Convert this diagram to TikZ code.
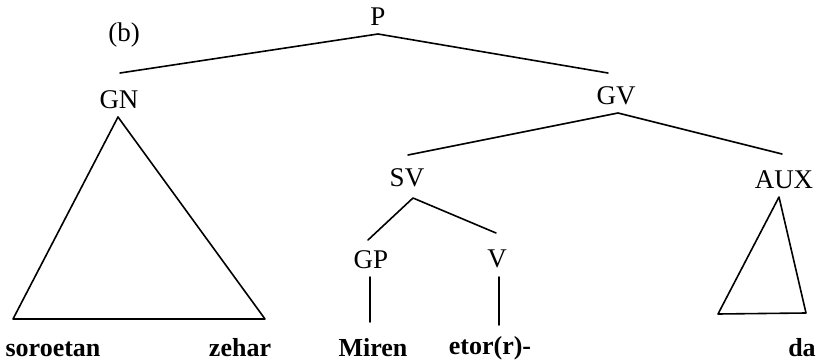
\documentclass[tikz,border=0pt]{standalone}
\usepackage{fontspec}
\setmainfont{Liberation Serif}
\begin{document}
\begin{tikzpicture}[x=1pt,y=-1pt,
  lab/.style={inner sep=0pt,font=\fontsize{27}{27}\selectfont},
  word/.style={inner sep=0pt,font=\fontsize{26}{26}\selectfont\bfseries},
  branch/.style={line width=1.6pt,line cap=round,line join=round}]
\useasboundingbox[fill=white] (0,0) rectangle (817,361);
% labels
\node[lab] (P) at (378,17) {P};
\node[lab] (b) at (124,35) {(b)};
\node[lab] (GN) at (119,100) {GN};
\node[lab] (GV) at (616,96) {GV};
\node[lab] (SV) at (407,178) {SV};
\node[lab] (AUX) at (784,180) {AUX};
\node[lab] (GP) at (371,260) {GP};
\node[lab] (V) at (497,259) {V};
\node[word] (w1) at (53,349) {soroetan};
\node[word] (w2) at (240,348) {zehar};
\node[word] (w3) at (373,348) {Miren};
\node[word] (w4) at (490,348) {etor(r)-};
\node[word] (w5) at (802,348) {da};
% branch points
\coordinate (Pa) at (378,34);
\coordinate (GNt) at (120,73);
\coordinate (GVt) at (608,73);
\coordinate (GVa) at (618,113);
\coordinate (SVt) at (408,155);
\coordinate (AUXt) at (782,154);
\coordinate (SVa) at (413,198);
\coordinate (GPt) at (368,240);
\coordinate (Vt) at (496,233);
\coordinate (GPa) at (370,277);
\coordinate (GPb) at (370,322);
\coordinate (Va) at (499,277);
\coordinate (Vb) at (499,325);
\coordinate (GNa) at (118,117);
\coordinate (GNl) at (13,319);
\coordinate (GNr) at (265,319);
\coordinate (AUXa) at (779,197);
\coordinate (AUXl) at (718,314);
\coordinate (AUXr) at (806,313);
% branches
\draw[branch] (GNt) -- (Pa) -- (GVt);
\draw[branch] (SVt) -- (GVa) -- (AUXt);
\draw[branch] (GPt) -- (SVa) -- (Vt);
\draw[branch] (GPa) -- (GPb);
\draw[branch] (Va) -- (Vb);
\draw[branch] (GNa) -- (GNl) -- (GNr) -- cycle;
\draw[branch] (AUXa) -- (AUXl) -- (AUXr) -- cycle;
\end{tikzpicture}
\end{document}
